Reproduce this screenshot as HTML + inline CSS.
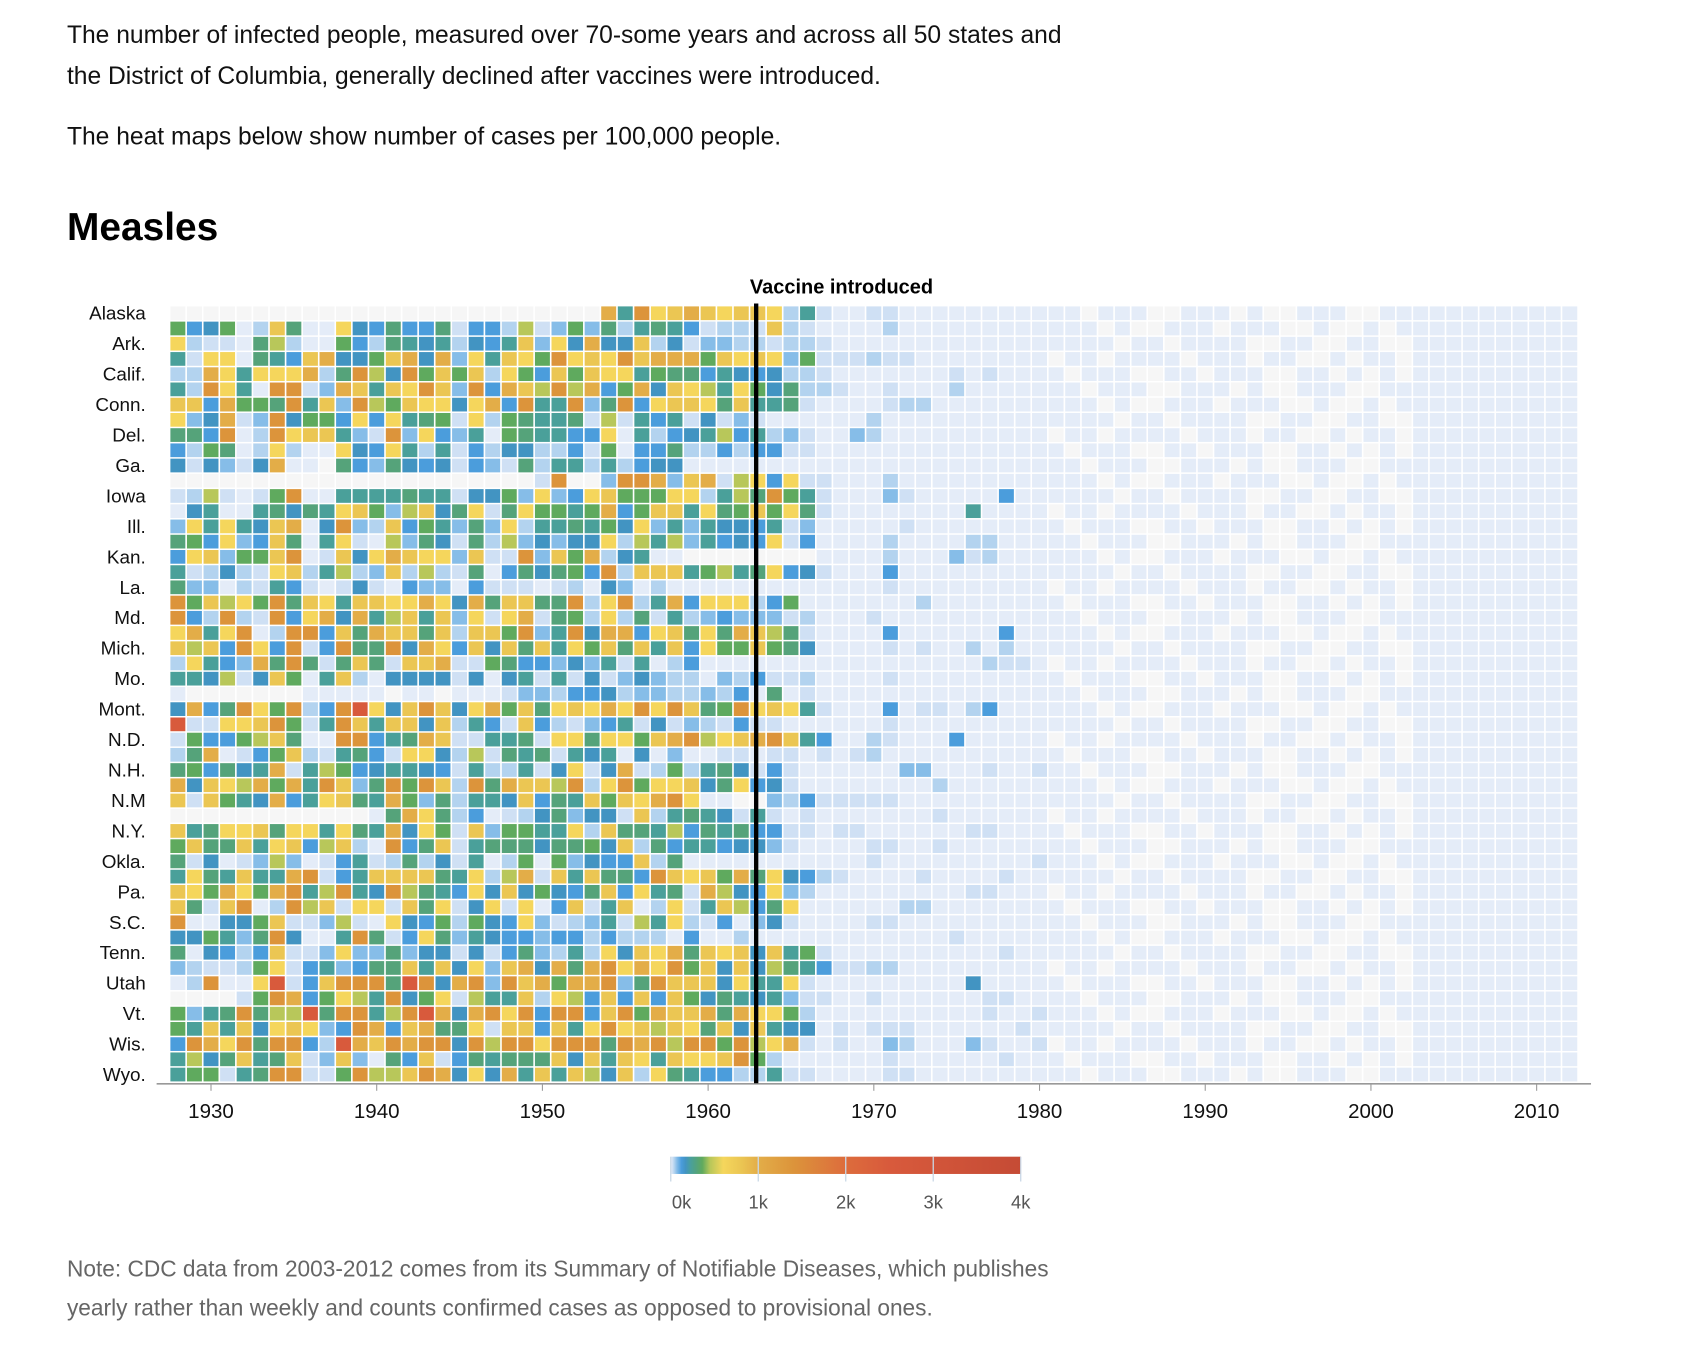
<!DOCTYPE html>
<html><head><meta charset="utf-8"><style>
html,body{margin:0;padding:0;background:#fff;}
svg{display:block;font-family:"Liberation Sans",Arial,sans-serif;}
</style></head><body>
<svg id="chart" width="1685" height="1350" viewBox="0 0 1560 1250" preserveAspectRatio="none" xmlns="http://www.w3.org/2000/svg">
<text x="62" y="40" font-size="22.8" fill="#111">The number of infected people, measured over 70-some years and across all 50 states and</text>
<text x="62" y="78" font-size="22.8" fill="#111">the District of Columbia, generally declined after vaccines were introduced.</text>
<text x="62" y="134" font-size="22.8" fill="#111">The heat maps below show number of cases per 100,000 people.</text>
<text x="62" y="222" font-size="36" font-weight="bold" fill="#000">Measles</text>
<g id="cells"></g>
<g id="rowlabels"></g>
<g id="xaxis"></g>
<g id="vaccine"></g>
<g id="legend"></g>
<text x="62" y="1182" font-size="21" fill="#666">Note: CDC data from 2003-2012 comes from its Summary of Notifiable Diseases, which publishes</text>
<text x="62" y="1218" font-size="21" fill="#666">yearly rather than weekly and counts confirmed cases as opposed to provisional ones.</text>
</svg>
<script>
const states = ["Alaska","Ala.","Ark.","Ariz.","Calif.","Colo.","Conn.","D.C.","Del.","Fla.","Ga.","Hawaii","Iowa","Idaho","Ill.","Ind.","Kan.","Ky.","La.","Mass.","Md.","Maine","Mich.","Minn.","Mo.","Miss.","Mont.","N.C.","N.D.","Neb.","N.H.","N.J.","N.M","Nev.","N.Y.","Ohio","Okla.","Ore.","Pa.","R.I.","S.C.","S.D.","Tenn.","Texas","Utah","Va.","Vt.","Wash.","Wis.","W.Va.","Wyo."];
const firstYear = 1928;
const lastYear = 2012;
const vaccineYear = 1963;
const xTickYears = [1930,1940,1950,1960,1970,1980,1990,2000,2010];
const legendTicks = [0,1000,2000,3000,4000];
const legendTickLabels = ["0k","1k","2k","3k","4k"];
// cases per 100k, encoded per cell: code -> value
const codeValues = {"0":null,"1":5,"2":20,"3":40,"4":70,"5":120,"6":170,"7":230,"8":300,"9":360,"y":450,"Y":600,"g":800,"o":1000,"O":1400,"r":2500};
// 1928-1967 per state
const preVaccineRows = [
"00000000000000000000000000o7OYgogYggY372",
"956913g811Y6585582553y24948378752332g321",
"Y32218y3119538767365" + "7g4Y6o66g36244332332",
"72YY1875go669go6o4Y7gY9OYgYOgooo9gYgY492",
"33oY7YYYo38Oy6O9g9g3Y95g9gYY798857656332",
"73OY71OO24og7gYOg4O5ogyOyo59o6gYy7Y96833",
"gg5o998O7g4Oy9gYY6Yo5O77O48O5YggY8g77821",
"Y46o24O6995Y5Y7892Y3987782y2757262421111",
"885O13OYgg742O4Y5471987755Y173567y573421",
"539813Y311Y65Y73725366335291558335355221",
"626426o110854865625428377373566111111111",
"00000000000000000000002O004OOo4go2yY5Y22",
"23y2129O11777787726694Y45Yg999YY37y8O972",
"1671178687Yg94yg68Y28Y9979o59gg7Y89g9Y82",
"4Y7Y76go16O43g597484Y3778796Y47476657241",
"895Y45g817Y21y486283y46466Y3y7y47565Y251",
"5Yg499gO12g6YogYY4g22O4g9o36711000000001",
"723632Yg37y34g3y3281586895O3ggg79y78Y562",
"8441327521262154415222123164131111111111",
"O9gyY9O8gY7ggYYoY6o8gg88O3YO37o5YYY35911",
"O53O32O5Yo6o7yg7g4Y2Yo2893Y3827345444231",
"Yo7YO13OO5g8ogg8g3gg9O47O6oo5Yg8Y8ogy821",
"gyg5OY5O25O88O6oY5g6g8g7Y9g8g7g5Y99g9861",
"3Y754o8O828g82ggo22985546472713511111111",
"776y26g917g3166662616727262464" + "3314352231",
"1000000011111011011124435563443343518121",
"6o58OY9O35OrY6gOg6Yo9g8YgYoYOYOg89OYgY72",
"r22YYgO927Og7gg6g3752g532457262" + "432522111",
"29559yg811OO578og227782YY8YY9goOyYgoOg75",
"38o1259g327852YY63y287827671614112212212",
"895867o27y95677652733726Y26o239378625211",
"o6gYyo9o7Og48O9Og3O8oggyO3YO9YYg68Y56211",
"g2g976o57Yg87o9483776g587g9gYoOY11004352",
"00000000000018oY835123684662g37876272121",
"g78YYg8YY7Y87o6Y92g49977Y3g887y587855221",
"9g88g7Yg5yg31O58g2788868896g385775664211",
"826124y412572383627139194655g38111111111",
"7Y87g77oO257gggg87Y3yo2g7g885OgYg9o8Y653",
"gY9oY9oO7yO76Oy875Y6g69658g5Y782oy65Y431",
"g82gO13Oyg2YY2g8Y26Y2Y15g27g13Y27gy58Y11",
"O11669g224y21Y6593965Y423472y7Y325146211",
"669748O6117O825Y847655455353331511311111",
"816535g224Y448466262584373Y6gYo8gYg6g792",
"432239Y2574588g7g6Y4go6o8oOYoYO9g6g6y875",
"13O11Yr25gOOO8rO6oO4Ogo9ooO48Oggg6Y77Y21",
"000029Oo59Yy7O69Y2y77g3Yy5g5g5g968767422",
"9478O8yyr8OO7yOro6oOYO5OO5gO9oggo8oYY931",
"97g7g6YgY45Oo5go88Y2gg5g7YOYgygY8g6g7661",
"5OoYO8OO53rogOoOO6OyOOYOOO8OoOyOO9OyYo21",
"7y68g78g24g4185g2587888g6g7gY7gYYgO93111",
"799278OO229OyygOo6Y6o7g7gy6g3Y8755337221"
];
// 1968-1980 per state
const earlyPostRows = ["1122111111111","1113111111111","1111111111111","2232211111111","1111111212111","2112111311111","1112331111111","1131111111111","1431111111111","1111111111111","1111111111111","1113111111111","1114211111511","1111111171111","1111211111111","1113111133111","1113111423111","1115111111111","1112111111111","1111131111111","1121111111111","1115111111511","1112121131311","1111111113221","1112111111111","1111111111111","1115122135111","1112111111111","1132111511111","1231111111111","1111441112112","1111113111111","2222111111111","1111112111111","2211111122111","1122112111111","1121111111112","2111121111211","1111111122111","1111331111111","1122111111111","1111111211111","1111111111211","2233111111111","1111111161111","1121111112211","1111111112112","2122211111121","2114311142112","1112111111211","1112211111111"];
// 1981-2002 per state
const latePostRows = ["1101110011101001110011","1110100111011100100101","1111011011110011001100","0110111101110110010110","1011100110111001101010"];
const recentRow = "1111111111"; // 2003-2012

const NS = "http://www.w3.org/2000/svg";
const gridX0 = 157, gridX1 = 1461, gridY0 = 283, gridY1 = 1002;
const nYears = lastYear - firstYear + 1;
const colW = (gridX1 - gridX0) / nYears;
const rowH = (gridY1 - gridY0) / states.length;
function xScale(year){ return gridX0 + (year - firstYear) * colW; }
function yScale(i){ return gridY0 + i * rowH; }

const colorStops = [[0,[240,244,250]],[5,[228,236,248]],[20,[207,224,244]],[40,[179,211,239]],[70,[134,189,232]],[120,[75,157,220]],[170,[66,148,194]],[230,[74,160,154]],[300,[85,163,122]],[360,[95,170,94]],[450,[184,199,90]],[600,[245,214,92]],[800,[235,198,83]],[1000,[227,173,72]],[1400,[220,148,59]],[2000,[221,108,60]],[2500,[216,90,60]],[4000,[197,75,53]]];
function colorScale(v){
  if (v === null || v === undefined) return "#f6f6f6";
  if (v <= colorStops[0][0]) return "rgb(" + colorStops[0][1].join(",") + ")";
  for (let i = 1; i < colorStops.length; i++) {
    if (v <= colorStops[i][0]) {
      const a = colorStops[i-1], b = colorStops[i];
      const t = (v - a[0]) / (b[0] - a[0]);
      const c = a[1].map((x, k) => Math.round(x + (b[1][k] - x) * t));
      return "rgb(" + c.join(",") + ")";
    }
  }
  return "rgb(" + colorStops[colorStops.length-1][1].join(",") + ")";
}
function rowValues(i){
  let s = preVaccineRows[i];
  while (s.length < 40) s += "0";
  s = s.slice(0, 40) + earlyPostRows[i] + latePostRows[i % latePostRows.length] + recentRow;
  return s.split("").map(ch => codeValues[ch] === undefined ? null : codeValues[ch]);
}

const cellsG = document.getElementById("cells");
for (let i = 0; i < states.length; i++) {
  const vals = rowValues(i);
  for (let j = 0; j < nYears; j++) {
    const r = document.createElementNS(NS, "rect");
    r.setAttribute("x", (xScale(firstYear + j) + 0.75).toFixed(2));
    r.setAttribute("y", (yScale(i) + 0.7).toFixed(2));
    r.setAttribute("width", (colW - 1.5).toFixed(2));
    r.setAttribute("height", (rowH - 1.4).toFixed(2));
    r.setAttribute("fill", colorScale(vals[j]));
    
    
    cellsG.appendChild(r);
  }
}

const labelsG = document.getElementById("rowlabels");
for (let i = 0; i < states.length; i += 2) {
  const t = document.createElementNS(NS, "text");
  t.setAttribute("x", 135);
  t.setAttribute("y", (yScale(i) + rowH / 2 + 6).toFixed(2));
  t.setAttribute("text-anchor", "end");
  t.setAttribute("font-size", "17.5");
  t.setAttribute("fill", "#111");
  t.textContent = states[i];
  
  
  labelsG.appendChild(t);
}

const axisG = document.getElementById("xaxis");
const axLine = document.createElementNS(NS, "line");
axLine.setAttribute("x1", 145); axLine.setAttribute("x2", 1473);
axLine.setAttribute("y1", 1003.5); axLine.setAttribute("y2", 1003.5);
axLine.setAttribute("stroke", "#999"); axLine.setAttribute("stroke-width", "1.5");


axisG.appendChild(axLine);
xTickYears.forEach(yr => {
  const cx = xScale(yr) + colW / 2;
  const tk = document.createElementNS(NS, "line");
  tk.setAttribute("x1", cx); tk.setAttribute("x2", cx);
  tk.setAttribute("y1", 1003); tk.setAttribute("y2", 1010);
  tk.setAttribute("stroke", "#999");
  
  
  axisG.appendChild(tk);
  const lb = document.createElementNS(NS, "text");
  lb.setAttribute("x", cx); lb.setAttribute("y", 1035);
  lb.setAttribute("text-anchor", "middle"); lb.setAttribute("font-size", "19"); lb.setAttribute("fill", "#111");
  lb.textContent = yr;
  
  
  axisG.appendChild(lb);
});

const vacG = document.getElementById("vaccine");
const vx = xScale(vaccineYear) + colW * 0.4;
const vl = document.createElementNS(NS, "line");
vl.setAttribute("x1", vx); vl.setAttribute("x2", vx);
vl.setAttribute("y1", 281); vl.setAttribute("y2", 1003);
vl.setAttribute("stroke", "#000"); vl.setAttribute("stroke-width", "4");


vacG.appendChild(vl);
const vt = document.createElementNS(NS, "text");
vt.setAttribute("x", vx + 79); vt.setAttribute("y", 272);
vt.setAttribute("text-anchor", "middle"); vt.setAttribute("font-size", "18.5"); vt.setAttribute("font-weight", "bold"); vt.setAttribute("fill", "#000");
vt.textContent = "Vaccine introduced";


vacG.appendChild(vt);

const legG = document.getElementById("legend");
const lx0 = 621, lx1 = 945, legMax = 4000;
function lScale(v){ return lx0 + (v / legMax) * (lx1 - lx0); }
const defs = document.createElementNS(NS, "defs");
const grad = document.createElementNS(NS, "linearGradient");
grad.setAttribute("id", "lg");
colorStops.forEach(s => {
  const st = document.createElementNS(NS, "stop");
  st.setAttribute("offset", (s[0] / legMax * 100).toFixed(3) + "%");
  st.setAttribute("stop-color", "rgb(" + s[1].join(",") + ")");
  grad.appendChild(st);
});
defs.appendChild(grad);
legG.appendChild(defs);
const lb = document.createElementNS(NS, "rect");
lb.setAttribute("x", lx0); lb.setAttribute("y", 1071); lb.setAttribute("width", lx1 - lx0); lb.setAttribute("height", 16);
lb.setAttribute("fill", "url(#lg)");


legG.appendChild(lb);
legendTicks.forEach((v, k) => {
  const x = lScale(v);
  const tl = document.createElementNS(NS, "line");
  tl.setAttribute("x1", x); tl.setAttribute("x2", x);
  tl.setAttribute("y1", 1071); tl.setAttribute("y2", 1094);
  tl.setAttribute("stroke", "#c9d8e6"); tl.setAttribute("stroke-width", "1.2");
  
  
  legG.appendChild(tl);
  const tt = document.createElementNS(NS, "text");
  tt.setAttribute("x", x + (k === 0 ? 10 : 0)); tt.setAttribute("y", 1119);
  tt.setAttribute("text-anchor", "middle"); tt.setAttribute("font-size", "17"); tt.setAttribute("fill", "#555");
  tt.textContent = legendTickLabels[k];
  
  
  legG.appendChild(tt);
});
</script>
</body></html>
